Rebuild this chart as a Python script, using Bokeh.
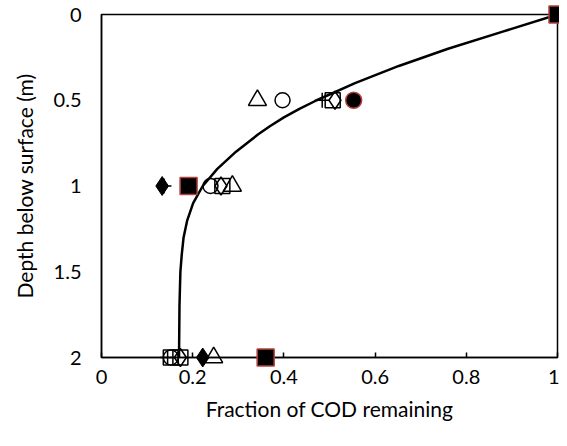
from bokeh.plotting import figure
from bokeh.models import Range1d, FixedTicker
from bokeh.embed import file_html
from bokeh.resources import INLINE

# fitted curve
curve_x = [1.0, 0.88, 0.760, 0.652, 0.556, 0.472, 0.434, 0.400, 0.370, 0.343, 0.295, 0.254,
           0.222, 0.201, 0.188, 0.180, 0.176, 0.173, 0.171, 0.170]
curve_y = [0.0, 0.1, 0.2, 0.3, 0.4, 0.5, 0.55, 0.6, 0.65, 0.7, 0.8, 0.9,
           1.0, 1.1, 1.2, 1.3, 1.4, 1.5, 1.7, 2.0]

tri_x = [0.342, 0.287, 0.246]
tri_y = [0.5, 1.0, 2.0]
circ_x = [0.397, 0.239, 0.152]
circ_y = [0.5, 1.0, 2.0]
plus_x = [0.484, 0.137, 0.145]
plus_y = [0.5, 1.0, 2.0]
sq_x = [0.507, 0.265, 0.152]
sq_y = [0.5, 1.0, 2.0]
dia_x = [0.512, 0.262, 0.173]
dia_y = [0.5, 1.0, 2.0]
sq2_x = [0.173]
sq2_y = [2.0]
fdia_x = [0.133, 0.222]
fdia_y = [1.0, 2.0]
fcirc_x = [0.553]
fcirc_y = [0.5]
fsq_x = [1.0, 0.191, 0.36]
fsq_y = [0.0, 1.0, 2.0]

x_ticks = [0, 0.2, 0.4, 0.6, 0.8, 1]
y_ticks = [0, 0.5, 1, 1.5, 2]

FONT = "Lato"
RED = "#b4413d"

p = figure(width=559, height=436, output_backend="svg", toolbar_location=None,
           x_range=Range1d(0, 1), y_range=Range1d(2, 0),
           min_border_left=101, min_border_right=2, min_border_top=14, min_border_bottom=79)
p.grid.visible = False
p.outline_line_color = "black"
p.outline_line_width = 1.5

p.xaxis.ticker = FixedTicker(ticks=x_ticks)
p.yaxis.ticker = FixedTicker(ticks=y_ticks)
p.xaxis.axis_label = "Fraction of COD remaining"
p.yaxis.axis_label = "Depth below surface (m)"
for ax in (p.xaxis, p.yaxis):
    ax.axis_label_text_font = FONT
    ax.axis_label_text_font_style = "normal"
    ax.axis_label_text_font_size = "21px"
    ax.axis_label_text_color = "black"
    ax.major_label_text_font = FONT
    ax.major_label_text_font_size = "20px"
    ax.major_label_text_color = "black"
    ax.minor_tick_line_color = None
    ax.axis_line_color = "black"
    ax.axis_line_width = 1.5
p.xaxis.major_tick_in = 5
p.xaxis.major_tick_out = 0
p.xaxis.major_tick_line_width = 1.5
p.xaxis.major_label_standoff = 12
p.xaxis.axis_label_standoff = 9
p.yaxis.major_tick_in = 0
p.yaxis.major_tick_out = 0
p.yaxis.major_label_standoff = 20
p.yaxis.axis_label_standoff = 14

p.line(curve_x, curve_y, line_color="black", line_width=2.5)

S = 15
L = "overlay"
p.scatter(tri_x, tri_y, marker="triangle", size=S + 3, fill_color=None, line_color="black", line_width=1.5, level=L)
p.scatter(circ_x, circ_y, marker="circle", size=S, fill_color=None, line_color="black", line_width=1.5, level=L)
p.scatter(plus_x, plus_y, marker="cross", size=S, line_color="black", line_width=1.5, level=L)
p.scatter(sq_x, sq_y, marker="square", size=S, fill_color=None, line_color="black", line_width=1.5, level=L)
p.scatter(sq2_x, sq2_y, marker="square", size=S, fill_color=None, line_color="black", line_width=1.5, level=L)
p.scatter(dia_x, dia_y, marker="diamond", size=S + 3, fill_color=None, line_color="black", line_width=1.5, level=L)
p.scatter(fdia_x, fdia_y, marker="diamond", size=S + 4, fill_color="black", line_color="black", line_width=1, level=L)
p.scatter(fcirc_x, fcirc_y, marker="circle", size=S + 1, fill_color="black", line_color=RED, line_width=1.5, level=L)
p.scatter(fsq_x, fsq_y, marker="square", size=S + 2, fill_color="black", line_color=RED, line_width=1.5, level=L)

open("out.html", "w").write(file_html(p, INLINE))
